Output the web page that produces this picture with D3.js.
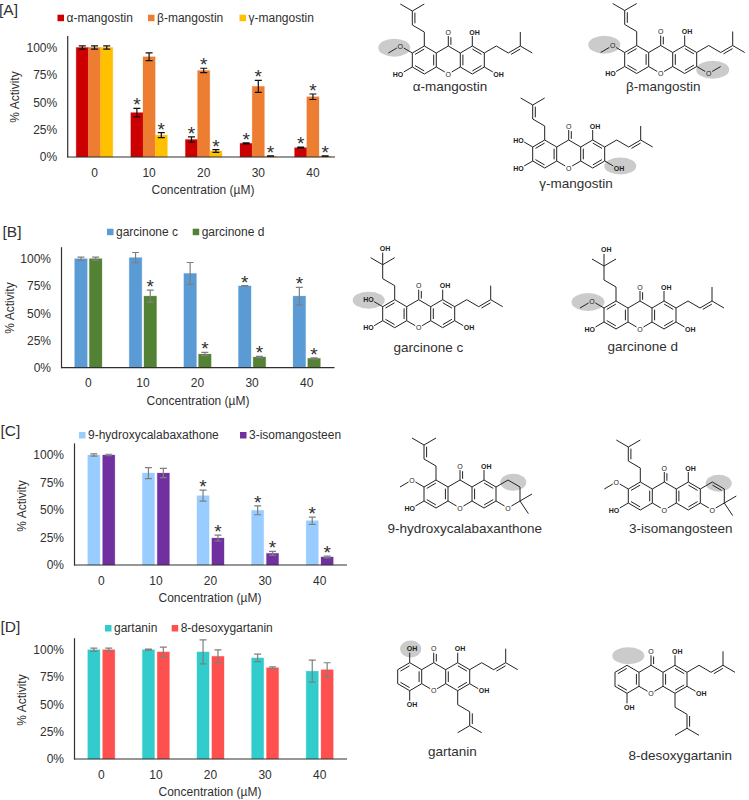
<!DOCTYPE html>
<html>
<head>
<meta charset="utf-8">
<script src="https://cdnjs.cloudflare.com/ajax/libs/d3/7.8.5/d3.min.js"></script>
<style>
  body { margin: 0; background: #fff; }
  text { font-family: "Liberation Sans", Arial, sans-serif; fill: #303030; }
</style>
</head>
<body>
<div id="chart"></div>
<script>
// values
const categories = ['0', '10', '20', '30', '40']
const yTicks = [0, 25, 50, 75, 100]

const alphaValues = [100, 40.5, 16, 12.5, 8.5]
const alphaErrors = [1.5, 3.8, 2.4, 0.5, 0.5]
const alphaStars = [0, 1, 1, 1, 1]
const betaValues = [100, 91.5, 79, 64.5, 55]
const betaErrors = [1.5, 3.5, 2, 5.5, 2.5]
const betaStars = [0, 0, 1, 1, 1]
const gammaValues = [100, 20, 5.5, 0.8, 0.8]
const gammaErrors = [1.5, 2.3, 1.2, 0.3, 0.3]
const gammaStars = [0, 1, 1, 1, 1]

const garcinoneCValues = [100, 101, 86.5, 75, 65.7]
const garcinoneCErrors = [1.5, 4.7, 10, 0.3, 8]
const garcinoneCStars = [0, 0, 0, 1, 1]
const garcinoneDValues = [100, 65.7, 12.5, 9.8, 8.6]
const garcinoneDErrors = [1.5, 5.5, 1.5, 0.5, 0.5]
const garcinoneDStars = [0, 1, 1, 1, 1]

const hydroxyValues = [100, 83.6, 63, 49.7, 40.3]
const hydroxyErrors = [1, 5, 5, 4, 3.3]
const hydroxyStars = [0, 0, 1, 1, 1]
const isoValues = [100, 83.6, 24.5, 10.6, 7.3]
const isoErrors = [0.7, 4.2, 2.7, 1.8, 0.8]
const isoStars = [0, 0, 1, 1, 1]

const gartaninValues = [100, 100, 98, 92.5, 80.4]
const gartaninErrors = [1.5, 0.5, 11, 3.4, 10]
const gartaninStars = [0, 0, 0, 0, 0]
const desoxyValues = [100, 98, 94, 83.5, 81.7]
const desoxyErrors = [1.5, 4.4, 5.8, 0.8, 6.4]
const desoxyStars = [0, 0, 0, 0, 0]

const panels = [
    {
        label: '[A]', labelX: -1, labelY: 15, axisX: 67.2, base: 157, top: 35.4, xEnd: 335, yTitleX: 15, yTitleY: 97, xTitleX: 203,
        barStep: 12.2, barWidth: 12.2, errorColor: '#111', legendY: 17.7,
        series: [
            { name: 'α-mangostin', values: alphaValues, errors: alphaErrors, stars: alphaStars, color: '#cc0000', legendX: 57.5 },
            { name: 'β-mangostin', values: betaValues, errors: betaErrors, stars: betaStars, color: '#ed7d31', legendX: 148 },
            { name: 'γ-mangostin', values: gammaValues, errors: gammaErrors, stars: gammaStars, color: '#ffc000', legendX: 239.5 },
        ],
    },
    {
        label: '[B]', labelX: 2.5, labelY: 237, axisX: 61, base: 367.7, top: 246.7, xEnd: 334.5, yTitleX: 10, yTitleY: 308, xTitleX: 198,
        barStep: 14.7, barWidth: 12.6, errorColor: '#7f7f7f', legendY: 231.7,
        series: [
            { name: 'garcinone c', values: garcinoneCValues, errors: garcinoneCErrors, stars: garcinoneCStars, color: '#5b9bd5', legendX: 107 },
            { name: 'garcinone d', values: garcinoneDValues, errors: garcinoneDErrors, stars: garcinoneDStars, color: '#548235', legendX: 192.7 },
        ],
    },
    {
        label: '[C]', labelX: 0.5, labelY: 436, axisX: 74, base: 565, top: 442.9, xEnd: 347, yTitleX: 21.7, yTitleY: 506, xTitleX: 210,
        barStep: 14.9, barWidth: 12.2, errorColor: '#7f7f7f', legendY: 435,
        series: [
            { name: '9-hydroxycalabaxathone', values: hydroxyValues, errors: hydroxyErrors, stars: hydroxyStars, color: '#99ccff', legendX: 79 },
            { name: '3-isomangosteen', values: isoValues, errors: isoErrors, stars: isoStars, color: '#7030a0', legendX: 240 },
        ],
    },
    {
        label: '[D]', labelX: 0.5, labelY: 632, axisX: 74, base: 759, top: 637.7, xEnd: 347, yTitleX: 21.7, yTitleY: 700, xTitleX: 210,
        barStep: 14.9, barWidth: 12.2, errorColor: '#7f7f7f', legendY: 628,
        series: [
            { name: 'gartanin', values: gartaninValues, errors: gartaninErrors, stars: gartaninStars, color: '#33cccc', legendX: 105 },
            { name: '8-desoxygartanin', values: desoxyValues, errors: desoxyErrors, stars: desoxyStars, color: '#ff5050', legendX: 171.7 },
        ],
    },
]

const svg = d3.select('#chart').append('svg')
    .attr('width', 749)
    .attr('height', 800)

/**
 * draws one grouped bar panel
 * @param {Object} panel
 */
function drawPanel(panel) {
    const x = d3.scaleBand()
        .domain(categories)
        .range([panel.axisX, panel.axisX + 54.6 * categories.length])

    const y = d3.scaleLinear()
        .domain([0, 111])
        .range([panel.base, panel.top])

    const names = panel.series.map((s) => s.name)
    const groupWidth = names.length * panel.barStep
    const gapShare = 1 - panel.barWidth / panel.barStep
    const xInner = d3.scaleBand()
        .domain(names)
        .range([-groupWidth / 2, groupWidth / 2])
        .paddingInner(gapShare)
        .paddingOuter(gapShare / 2)

    const g = svg.append('g')

    panel.series.forEach((s) => {
        const rows = categories.map((c, i) => ({ c, v: s.values[i], e: s.errors[i], star: s.stars[i] }))
        const centre = (d) => x(d.c) + x.bandwidth() / 2 + xInner(s.name) + xInner.bandwidth() / 2
        const serie = g.append('g')

        serie.selectAll('rect')
            .data(rows)
            .join('rect')
            .attr('x', (d) => x(d.c) + x.bandwidth() / 2 + xInner(s.name))
            .attr('y', (d) => y(d.v))
            .attr('width', xInner.bandwidth())
            .attr('height', (d) => y(0) - y(d.v))
            .attr('fill', s.color)
            .attr('stroke', s.color)
            .attr('stroke-opacity', 0.25)

        // error bars
        serie.selectAll('.err')
            .data(rows)
            .join('path')
            .attr('class', 'err')
            .attr('fill', 'none')
            .attr('stroke', panel.errorColor)
            .attr('stroke-width', 1.2)
            .attr('d', (d) => {
                const cx = centre(d)
                const up = y(d.v + d.e)
                const down = y(d.v - d.e)
                return `M${cx - 3.5},${up}H${cx + 3.5}M${cx},${up}V${down}M${cx - 3.5},${down}H${cx + 3.5}`
            })

        serie.selectAll('.star')
            .data(rows.filter((d) => d.star))
            .join('text')
            .attr('class', 'star')
            .attr('x', centre)
            .attr('y', (d) => y(d.v + d.e) + 3)
            .attr('text-anchor', 'middle')
            .style('font-size', '19px')
            .text('*')

        // legend
        g.append('rect')
            .attr('x', s.legendX)
            .attr('y', panel.legendY - 3)
            .attr('width', 6.5)
            .attr('height', 6.5)
            .attr('fill', s.color)
        g.append('text')
            .attr('x', s.legendX + 9)
            .attr('y', panel.legendY + 4.2)
            .style('font-size', '12px')
            .text(s.name)
    })

    // axes
    const yAxis = g.append('g')
        .attr('transform', `translate(${panel.axisX},0)`)
        .call(d3.axisLeft(y).tickValues(yTicks).tickFormat((d) => d + '%').tickSize(0).tickPadding(10))
    const xAxis = g.append('g')
        .attr('transform', `translate(0,${panel.base})`)
        .call(d3.axisBottom(x).tickSize(0).tickPadding(11))
    xAxis.select('.domain').remove()
    g.append('line')
        .attr('x1', panel.axisX)
        .attr('x2', panel.xEnd)
        .attr('y1', panel.base)
        .attr('y2', panel.base)
        .attr('stroke', '#303030')
        .attr('stroke-width', 1.2)
    yAxis.select('.domain').attr('stroke', '#303030').attr('stroke-width', 1.2)
    g.selectAll('.tick text')
        .style('font-size', '12px')
        .style('font-family', '"Liberation Sans", Arial, sans-serif')
        .attr('fill', '#303030')

    // titles
    g.append('text')
        .attr('x', panel.xTitleX)
        .attr('y', panel.base + 37)
        .attr('text-anchor', 'middle')
        .style('font-size', '12px')
        .text('Concentration (µM)')
    g.append('text')
        .attr('transform', `translate(${panel.yTitleX + 4},${panel.yTitleY}) rotate(-90)`)
        .attr('text-anchor', 'middle')
        .style('font-size', '12px')
        .text('% Activity')
    g.append('text')
        .attr('x', panel.labelX)
        .attr('y', panel.labelY)
        .style('font-size', '15.5px')
        .text(panel.label)
}

panels.forEach(drawPanel)

// structures, bonds are on a hexagon lattice around the centre of the xanthone
const latticeX = 12
const latticeY = 7

const core = {
    chains: [
        [[-2, -2], [-1, -1], [0, -2], [1, -1], [2, -2], [3, -1], [3, 1], [2, 2], [1, 1], [0, 2], [-1, 1], [-2, 2], [-3, 1], [-3, -1], [-2, -2]],
        [[-1, -1], [-1, 1]],
        [[1, -1], [1, 1]],
        [[0, -2], [0, -4]],
    ],
    doubles: [
        [[-2, -2], [-3, -1], [-2, 0]],
        [[-3, 1], [-2, 2], [-2, 0]],
        [[-1, -1], [-1, 1], [-2, 0]],
        [[1, -1], [1, 1], [2, 0]],
        [[2, -2], [3, -1], [2, 0]],
        [[3, 1], [2, 2], [2, 0]],
        [[0, -2], [0, -4], [1, -3]],
    ],
    labels: [[[0, -4], 'O', 'm'], [[0, 2], 'O', 'm']],
}
const prenylLeft = {
    chains: [[[-2, -2], [-2, -4], [-3, -5], [-3, -7], [-4, -8]], [[-3, -7], [-2, -8]]],
    doubles: [[[-3, -5], [-3, -7], [-2, -6]]],
}
const hydroxyprenylLeft = {
    chains: [[[-2, -2], [-2, -4], [-3, -5], [-3, -7], [-4, -8]], [[-3, -7], [-2, -8]], [[-3, -7], [-3, -9.3]]],
    labels: [[[-3, -9.3], 'OH', 'r']],
}
const prenylRight = {
    chains: [[[3, -1], [4, -2], [5, -1], [6, -2], [6, -4]], [[6, -2], [7, -1]]],
    doubles: [[[5, -1], [6, -2], [6, 0]]],
}
const prenylBottom = {
    chains: [[[2, 2], [2, 4], [3, 5], [3, 7], [2, 8]], [[3, 7], [4, 8]]],
    doubles: [[[3, 5], [3, 7], [4, 6]]],
}
const methoxyLeft = { chains: [[[-3, -1], [-4, -2], [-5, -1]]], labels: [[[-4, -2], 'O', 'm']] }
const hydroxyUpperLeft = { chains: [[[-3, -1], [-4, -2]]], labels: [[[-4, -2], 'HO', 'l']] }
const hydroxyLowerLeft = { chains: [[[-3, 1], [-4, 2]]], labels: [[[-4, 2], 'HO', 'l']] }
const hydroxyLowerRight = { chains: [[[3, 1], [4, 2]]], labels: [[[4, 2], 'OH', 'r']] }
const methoxyLowerRight = { chains: [[[3, 1], [4, 2], [5, 1]]], labels: [[[4, 2], 'O', 'm']] }
const hydroxyTopRight = { chains: [[[2, -2], [2, -4]]], labels: [[[2, -4], 'OH', 'r']] }
const hydroxyTopLeft = { chains: [[[-2, -2], [-2, -4]]], labels: [[[-2, -4], 'OH', 'r']] }
const hydroxyBottomLeft = { chains: [[[-2, 2], [-2, 4]]], labels: [[[-2, 4], 'OH', 'r']] }
const pyranRing = {
    chains: [[[3, -1], [4, -2], [5, -1], [5, 1], [4, 2], [3, 1]], [[5, 1], [6, 0]], [[5, 1], [5.7, 2.8]]],
    labels: [[[4, 2], 'O', 'm']],
}
const pyranDouble = { doubles: [[[4, -2], [5, -1], [4, 0]]] }

const molecules = [
    { name: 'α-mangostin', x: 448.3, y: 60, nameX: 450, nameY: 90.5, parts: [prenylLeft, prenylRight, methoxyLeft, hydroxyLowerLeft, hydroxyLowerRight, hydroxyTopRight],
        marks: [[394.3, 47.7, 16, 9]] },
    { name: 'β-mangostin', x: 660.7, y: 59.5, nameX: 663.3, nameY: 90.5, parts: [prenylLeft, prenylRight, methoxyLeft, hydroxyLowerLeft, methoxyLowerRight, hydroxyTopRight],
        marks: [[604.3, 44.7, 16, 9], [712.7, 69.7, 16.5, 9]] },
    { name: 'γ-mangostin', x: 568.7, y: 154, nameX: 576, nameY: 188, parts: [prenylLeft, prenylRight, hydroxyUpperLeft, hydroxyLowerLeft, hydroxyLowerRight, hydroxyTopRight],
        marks: [[620.3, 166, 16, 8.5]] },
    { name: 'garcinone c', x: 418.7, y: 313.7, nameX: 428.3, nameY: 351.5, parts: [hydroxyprenylLeft, prenylRight, hydroxyUpperLeft, hydroxyLowerLeft, hydroxyLowerRight, hydroxyTopRight],
        marks: [[368.7, 300.3, 16, 8.5]] },
    { name: 'garcinone d', x: 640, y: 315, nameX: 642.7, nameY: 351, parts: [hydroxyprenylLeft, prenylRight, methoxyLeft, hydroxyLowerLeft, hydroxyLowerRight, hydroxyTopRight],
        marks: [[588, 302, 16.5, 9]] },
    { name: '9-hydroxycalabaxanthone', x: 460, y: 494, nameX: 464.7, nameY: 532.7, parts: [prenylLeft, methoxyLeft, hydroxyLowerLeft, hydroxyTopRight, pyranRing],
        marks: [[513.3, 482.3, 13, 8.5]] },
    { name: '3-isomangosteen', x: 664.3, y: 496, nameX: 680.7, nameY: 532.7, parts: [prenylLeft, methoxyLeft, hydroxyLowerLeft, hydroxyTopRight, pyranRing, pyranDouble],
        marks: [[718.7, 483.3, 13, 8.5]] },
    { name: 'gartanin', x: 433.7, y: 676.7, nameX: 452.3, nameY: 755.5, parts: [hydroxyTopLeft, hydroxyBottomLeft, hydroxyTopRight, prenylRight, hydroxyLowerRight, prenylBottom],
        marks: [[410.7, 649, 10.7, 8.5]] },
    { name: '8-desoxygartanin', x: 651, y: 679.3, nameX: 680.3, nameY: 760, parts: [hydroxyBottomLeft, hydroxyTopRight, prenylRight, hydroxyLowerRight, prenylBottom],
        marks: [[628.3, 655.7, 16, 8.5]] },
]

/**
 * draws one structure with its highlight and name
 * @param {Object} molecule
 */
function drawMolecule(molecule) {
    const parts = [core, ...molecule.parts]
    const g = svg.append('g')
    const px = (p) => [molecule.x + p[0] * latticeX, molecule.y + p[1] * latticeY]

    g.selectAll('ellipse')
        .data(molecule.marks)
        .join('ellipse')
        .attr('cx', (d) => d[0])
        .attr('cy', (d) => d[1])
        .attr('rx', (d) => d[2])
        .attr('ry', (d) => d[3])
        .attr('fill', '#cbcbcb')

    const labels = parts.flatMap((p) => p.labels || [])
    const labelled = (p) => labels.some((l) => l[0][0] === p[0] && l[0][1] === p[1])

    // shorten a bond where it runs into an atom label
    const trim = (a, b) => {
        const [ax, ay] = px(a)
        const [bx, by] = px(b)
        const len = Math.hypot(bx - ax, by - ay)
        const ta = labelled(a) ? 4 / len : 0
        const tb = labelled(b) ? 4 / len : 0
        return [ax + (bx - ax) * ta, ay + (by - ay) * ta, bx - (bx - ax) * tb, by - (by - ay) * tb]
    }

    const segments = []
    parts.forEach((part) => {
        (part.chains || []).forEach((chain) => {
            d3.pairs(chain).forEach(([a, b]) => segments.push(trim(a, b)))
        })
        ;(part.doubles || []).forEach(([a, b, side]) => {
            // second line of a double bond, pushed towards the side point
            const [x1, y1, x2, y2] = trim(a, b)
            const [sx, sy] = px(side)
            const mx = (x1 + x2) / 2
            const my = (y1 + y2) / 2
            const nx = -(y2 - y1)
            const ny = x2 - x1
            const nLen = Math.hypot(nx, ny)
            const dir = (nx * (sx - mx) + ny * (sy - my)) > 0 ? 1 : -1
            const off = 2.6 * dir / nLen
            segments.push([
                x1 + (x2 - x1) * 0.12 + nx * off,
                y1 + (y2 - y1) * 0.12 + ny * off,
                x2 - (x2 - x1) * 0.12 + nx * off,
                y2 - (y2 - y1) * 0.12 + ny * off,
            ])
        })
    })

    g.selectAll('line')
        .data(segments)
        .join('line')
        .attr('x1', (d) => d[0])
        .attr('y1', (d) => d[1])
        .attr('x2', (d) => d[2])
        .attr('y2', (d) => d[3])
        .attr('stroke', '#222')
        .attr('stroke-width', 1)

    g.selectAll('.atom')
        .data(labels)
        .join('text')
        .attr('class', 'atom')
        .attr('x', (d) => px(d[0])[0] + (d[2] === 'r' ? -3 : d[2] === 'l' ? 3 : 0))
        .attr('y', (d) => px(d[0])[1])
        .attr('dy', '0.36em')
        .attr('text-anchor', (d) => (d[2] === 'r' ? 'start' : d[2] === 'l' ? 'end' : 'middle'))
        .style('font-size', '7px')
        .style('font-weight', (d) => (d[1] === 'O' ? 'normal' : 'bold'))
        .style('fill', '#222')
        .text((d) => d[1])

    g.append('text')
        .attr('x', molecule.nameX)
        .attr('y', molecule.nameY)
        .attr('text-anchor', 'middle')
        .style('font-size', '13.5px')
        .text(molecule.name)
}

molecules.forEach(drawMolecule)
</script>
</body>
</html>
